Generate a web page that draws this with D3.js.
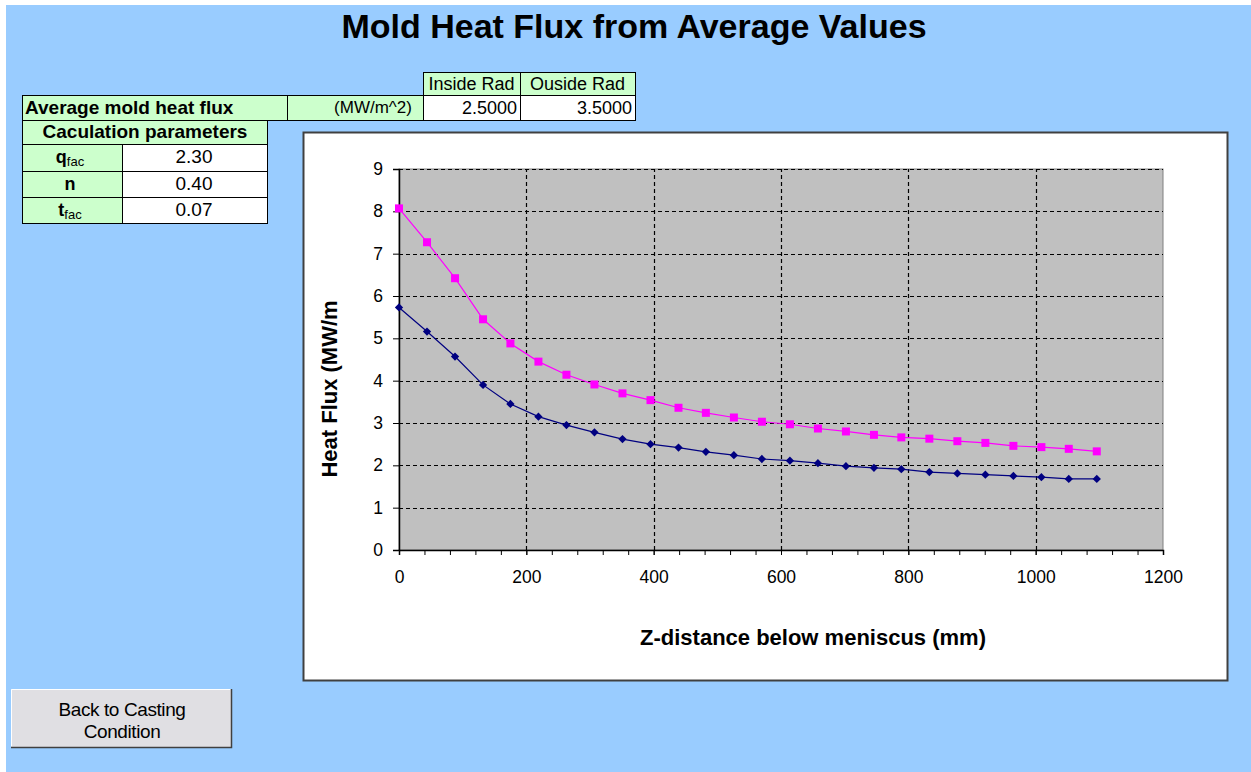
<!DOCTYPE html>
<html>
<head>
<meta charset="utf-8">
<script src="https://cdn.jsdelivr.net/npm/d3@7"></script>
<style>
  html, body { margin: 0; padding: 0; background: #ffffff; }
  svg { display: block; font-family: "Liberation Sans", Arial, sans-serif; }
</style>
</head>
<body>
<svg id="chart" width="1251" height="772"></svg>
<script>
// ---- Data ----
const zDistance = [0, 44, 88, 132, 175, 219, 263, 307, 351, 395, 439, 482, 526, 570, 614, 658, 702, 746, 789, 833, 877, 921, 965, 1009, 1052, 1096];
const insideRad = [5.73, 5.16, 4.57, 3.90, 3.45, 3.15, 2.95, 2.78, 2.62, 2.50, 2.42, 2.32, 2.24, 2.15, 2.11, 2.05, 1.98, 1.94, 1.91, 1.84, 1.81, 1.78, 1.75, 1.72, 1.68, 1.68];
const outsideRad = [8.07, 7.27, 6.42, 5.45, 4.88, 4.45, 4.14, 3.91, 3.70, 3.54, 3.36, 3.24, 3.13, 3.03, 2.97, 2.87, 2.80, 2.72, 2.66, 2.63, 2.57, 2.53, 2.46, 2.43, 2.39, 2.33];
const xTickValues = [0, 200, 400, 600, 800, 1000, 1200];
const xMinorTicks = d3.range(0, 1201, 40);
const yTickValues = [0, 1, 2, 3, 4, 5, 6, 7, 8, 9];
const headerLabels = ["Inside Rad", "Ouside Rad"];
const avgFluxValues = ["2.5000", "3.5000"];
const paramNames = ["q", "n", "t"];
const paramSubs = ["fac", "", "fac"];
const paramValues = ["2.30", "0.40", "0.07"];

const svg = d3.select("#chart");
const BG = "#99CCFF", GREEN = "#CCFFCC";
const FONT = "Liberation Sans, Arial, sans-serif";

// background
svg.append("rect").attr("x", 0).attr("y", 0).attr("width", 1251).attr("height", 772).attr("fill", "#ffffff");
svg.append("rect").attr("x", 6).attr("y", 5).attr("width", 1245).attr("height", 767).attr("fill", BG);

// title
svg.append("text").attr("x", 634).attr("y", 38).attr("text-anchor", "middle")
  .attr("font-size", 34).attr("font-weight", "bold").attr("fill", "#000")
  .text("Mold Heat Flux from Average Values");

// ---- Table ----
const tbl = svg.append("g");
function cell(x, y, w, h, fill) {
  tbl.append("rect").attr("x", x + 0.5).attr("y", y + 0.5).attr("width", w).attr("height", h)
    .attr("fill", fill).attr("stroke", "#000").attr("stroke-width", 1);
}
function txt(x, y, s, opts = {}) {
  return tbl.append("text").attr("x", x).attr("y", y)
    .attr("text-anchor", opts.anchor || "start")
    .attr("font-size", opts.size || 18)
    .attr("font-weight", opts.bold ? "bold" : "normal")
    .attr("fill", "#000").text(s);
}
// header row
const hx = [423, 520], hw = [97, 115];
headerLabels.forEach((h, i) => {
  cell(hx[i], 72, hw[i], 23, GREEN);
  txt(hx[i] + hw[i] / 2, 90, h, { anchor: "middle", size: 18 });
});
// average flux row
cell(22, 95, 265, 25, GREEN);
txt(25, 114, "Average mold heat flux", { bold: true, size: 19 });
cell(287, 95, 136, 25, GREEN);
txt(373, 113, "(MW/m^2)", { anchor: "middle", size: 17 });
avgFluxValues.forEach((v, i) => {
  cell(hx[i], 95, hw[i], 25, "#ffffff");
  txt(hx[i] + hw[i] - 3, 114, v, { anchor: "end", size: 18 });
});
// parameters
cell(22, 120, 245, 24, GREEN);
txt(145, 138, "Caculation parameters", { anchor: "middle", bold: true, size: 19 });
const rowY = [144, 171, 197], rowH = [27, 26, 26];
paramNames.forEach((p, i) => {
  cell(22, rowY[i], 100, rowH[i], GREEN);
  cell(122, rowY[i], 145, rowH[i], "#ffffff");
  const t = txt(70, rowY[i] + 19, "", { anchor: "middle", bold: true, size: 18 });
  t.append("tspan").text(p);
  if (paramSubs[i]) t.append("tspan").attr("font-size", 13).attr("font-weight", "normal").attr("dy", 3).text(paramSubs[i]);
  txt(194, rowY[i] + 19, paramValues[i], { anchor: "middle", size: 19 });
});

// ---- Chart box ----
svg.append("rect").attr("x", 303.5).attr("y", 132.5).attr("width", 924).attr("height", 548)
  .attr("fill", "#ffffff").attr("stroke", "#404040").attr("stroke-width", 2);

const x = d3.scaleLinear().domain([0, 1200]).range([399, 1163]);
const y = d3.scaleLinear().domain([0, 9]).range([550, 169]);

// plot area
svg.append("rect").attr("x", x(0)).attr("y", y(9)).attr("width", x(1200) - x(0)).attr("height", y(0) - y(9))
  .attr("fill", "#C0C0C0").attr("stroke", "#808080").attr("stroke-width", 1);

// gridlines
const grid = svg.append("g").attr("stroke", "#000").attr("stroke-width", 1.2).attr("stroke-dasharray", "4,3");
yTickValues.filter(v => v > 0).forEach(v => {
  grid.append("line").attr("x1", x(0)).attr("x2", x(1200)).attr("y1", Math.round(y(v)) + 0.5).attr("y2", Math.round(y(v)) + 0.5);
});
xTickValues.filter(v => v > 0 && v < 1200).forEach(v => {
  grid.append("line").attr("y1", y(0)).attr("y2", y(9)).attr("x1", Math.round(x(v)) + 0.5).attr("x2", Math.round(x(v)) + 0.5);
});

// axes
const xAxisMinor = d3.axisBottom(x).tickValues(xMinorTicks).tickSize(5).tickFormat("");
svg.append("g").attr("transform", `translate(0,${y(0)})`).call(xAxisMinor)
  .call(g => g.select(".domain").attr("stroke", "#000").attr("stroke-width", 1.5));
const xAxis = d3.axisBottom(x).tickValues(xTickValues).tickSize(5).tickPadding(16).tickFormat(d3.format("d"));
svg.append("g").attr("transform", `translate(0,${y(0)})`).call(xAxis)
  .call(g => g.select(".domain").remove())
  .call(g => g.selectAll("text").attr("font-size", 17.5).attr("font-family", FONT).attr("fill", "#000"));
const yAxis = d3.axisLeft(y).tickValues(yTickValues).tickSize(6).tickPadding(10);
svg.append("g").attr("transform", `translate(${x(0)},0)`).call(yAxis)
  .call(g => g.select(".domain").attr("stroke", "#000").attr("stroke-width", 1.5))
  .call(g => g.selectAll("text").attr("font-size", 17.5).attr("font-family", FONT).attr("fill", "#000"));

// axis titles
svg.append("text").attr("x", 813).attr("y", 645).attr("text-anchor", "middle")
  .attr("font-size", 22).attr("font-weight", "bold").text("Z-distance below meniscus (mm)");
svg.append("text").attr("transform", "translate(337,389) rotate(-90)").attr("text-anchor", "middle")
  .attr("font-size", 22).attr("font-weight", "bold").text("Heat Flux (MW/m");

// series
const line = d3.line().x(d => x(d[0])).y(d => y(d[1]));
const inData = zDistance.map((z, i) => [z, insideRad[i]]);
const outData = zDistance.map((z, i) => [z, outsideRad[i]]);
svg.append("path").datum(outData).attr("d", line).attr("fill", "none").attr("stroke", "#FF00FF").attr("stroke-width", 1.2);
svg.append("path").datum(inData).attr("d", line).attr("fill", "none").attr("stroke", "#000080").attr("stroke-width", 1.2);
svg.append("g").selectAll("rect").data(outData).join("rect")
  .attr("x", d => x(d[0]) - 4).attr("y", d => y(d[1]) - 4).attr("width", 8).attr("height", 8)
  .attr("fill", "#FF00FF");
svg.append("g").selectAll("path").data(inData).join("path")
  .attr("d", d3.symbol(d3.symbolDiamond2, 44))
  .attr("transform", d => `translate(${x(d[0])},${y(d[1])})`)
  .attr("fill", "#000080");

// button
const btn = svg.append("g");
btn.append("rect").attr("x", 11).attr("y", 689).attr("width", 220).attr("height", 58).attr("fill", "#E0DFE3");
btn.append("path").attr("d", "M11.5,746.5 V689.5 H230.5").attr("fill", "none").attr("stroke", "#ffffff").attr("stroke-width", 1);
btn.append("path").attr("d", "M11,747.5 H231.5 V689").attr("fill", "none").attr("stroke", "#404040").attr("stroke-width", 1.5);
btn.append("text").attr("x", 122).attr("y", 716).attr("text-anchor", "middle").attr("font-size", 19)
  .attr("letter-spacing", -0.4).text("Back to Casting");
btn.append("text").attr("x", 122).attr("y", 738).attr("text-anchor", "middle").attr("font-size", 19)
  .attr("letter-spacing", -0.4).text("Condition");
</script>
</body>
</html>
